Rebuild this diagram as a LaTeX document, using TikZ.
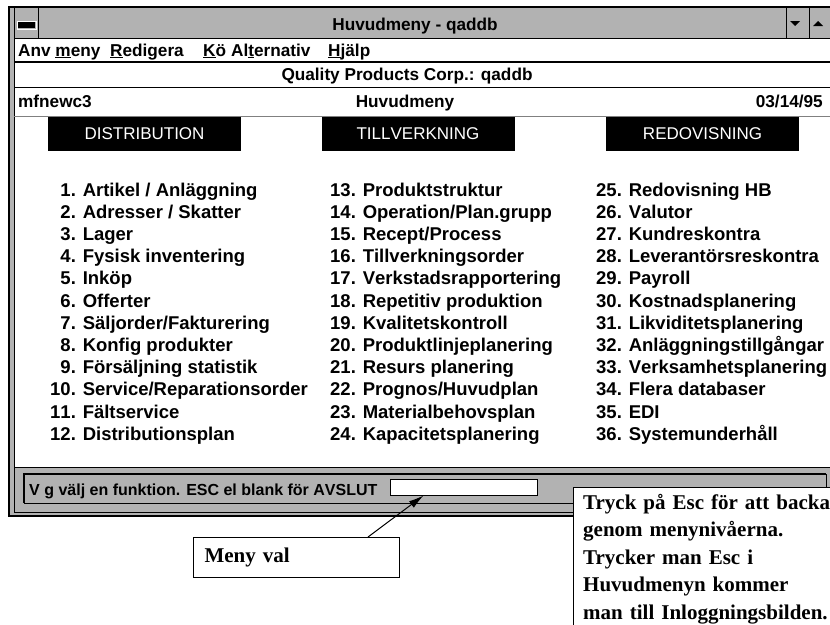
\documentclass[tikz,border=0pt]{standalone}
\usepackage{fontspec}
\setmainfont{Liberation Serif}
\newfontfamily\winfont[Kerning=Off]{Liberation Sans}
\usetikzlibrary{arrows.meta}

\begin{document}
\begin{tikzpicture}[x=1pt,y=-1pt,
  sysfont/.style={font=\winfont\bfseries\fontsize{17.2}{19}\selectfont,inner sep=0pt,anchor=base},
  head/.style={fill=black,text=white,font=\winfont\fontsize{17}{19}\selectfont,
    minimum width=193pt,minimum height=34pt,inner sep=0pt},
  item/.style={font=\winfont\bfseries\fontsize{18.5}{20}\selectfont,anchor=base west,inner sep=0pt},
  notefont/.style={font=\bfseries\fontsize{21}{27.5}\selectfont}]
  \useasboundingbox (0,0) rectangle (830,624);
  \clip (0,0) rectangle (830,624);
  % window frame, title bar and status bar
  \fill[black!30] (9,7) rectangle (840,516);
  \fill[white] (14,39) rectangle (840,467);
  \draw[line width=1.2pt] (9,7) rectangle (840,516);
  \draw (14,7) -- (14,512) -- (840,512);
  \draw (14,38) -- (840,38);
  \draw[line width=1.5pt] (14,62) -- (840,62);
  \draw (14,87) -- (840,87);
  \draw[gray] (14,116) -- (840,116);
  \draw[line width=1pt] (14,467) -- (840,467);
  % system menu box and buttons
  \draw (14,7) rectangle (38,38);
  \draw[white,line width=1pt] (17,21) rectangle (36,29);
  \fill (18,22) rectangle (35,28);
  \draw (786,7) rectangle (809,38) (809,7) rectangle (832,38);
  \fill (790,21) -- (800,21) -- (795,26) -- cycle;
  \fill (813,26) -- (823,26) -- (818,21) -- cycle;
  \node[sysfont] (title) at (415,30) {Huvudmeny - qaddb};
  % menu bar
  \node[sysfont,anchor=base west] (anv) at (18,56) {Anv \underline{m}eny};
  \node[sysfont,anchor=base west] (red) at (110,56) {\underline{R}edigera};
  \node[sysfont,anchor=base west] (koe) at (203,56) {\underline{K}ö};
  \node[sysfont,anchor=base west] (alt) at (231,56) {Al\underline{t}ernativ};
  \node[sysfont,anchor=base west] (hjp) at (328,56) {\underline{H}jälp};
  % header rows
  \node[sysfont] (corp) at (407,80.5) {Quality Products Corp.: qaddb};
  \node[sysfont,anchor=base west] (prog) at (18,107.5) {mfnewc3};
  \node[sysfont] (menu) at (405,107.5) {Huvudmeny};
  \node[sysfont,anchor=base east] (date) at (823,107.5) {03/14/95};
  \node[head] (dist) at (144.5,134) {DISTRIBUTION};
  \node[head] (tillv) at (418,134) {TILLVERKNING};
  \node[head] (redov) at (702.5,134) {REDOVISNING};
  % menu items
  \foreach \t [count=\i] in {Artikel / Anläggning, Adresser / Skatter, Lager,
      Fysisk inventering, Inköp, Offerter, Säljorder/Fakturering, Konfig produkter,
      Försäljning statistik, Service/Reparationsorder, Fältservice, Distributionsplan}
    \node[item] (dist\i) at (50,{196+(\i-1)*22.2}) {\ifnum\i<10 \phantom{0}\fi\i. \t};
  \foreach \t [count=\i] in {Produktstruktur, Operation/Plan.grupp, Recept/Process,
      Tillverkningsorder, Verkstadsrapportering, Repetitiv produktion, Kvalitetskontroll,
      Produktlinjeplanering, Resurs planering, Prognos/Huvudplan, Materialbehovsplan,
      Kapacitetsplanering}
    \node[item] (prod\i) at (330,{196+(\i-1)*22.2}) {\the\numexpr\i+12\relax. \t};
  \foreach \t [count=\i] in {Redovisning HB, Valutor, Kundreskontra, Leverantörsreskontra,
      Payroll, Kostnadsplanering, Likviditetsplanering, Anläggningstillgångar,
      Verksamhetsplanering, Flera databaser, EDI, Systemunderhåll}
    \node[item] (redo\i) at (596,{196+(\i-1)*22.2}) {\the\numexpr\i+24\relax. \t};
  % status line
  \draw (24,503) -- (826,503) -- (826,474);
  \draw[line width=1.5pt] (24,503) -- (24,474) -- (826,474);
  \node[sysfont,anchor=base west,font=\winfont\bfseries\fontsize{16}{18}\selectfont] (prompt) at (29,495.5) {V g välj en funktion. ESC el blank för AVSLUT};
  \node[draw,fill=white,line width=1pt,minimum width=147pt,minimum height=16pt,inner sep=0pt] (field) at (463.5,487) {};
  % callouts
  \node[draw,fill=white,line width=1pt,anchor=north west,minimum width=206pt,minimum height=40pt,
    text width=184pt,inner xsep=11pt,align=left,notefont] (mval) at (193,537) {Meny val};
  \draw[line width=1pt,-{Latex[length=15pt,width=8pt]}] ([xshift=-32pt]mval.north east) -- ([xshift=34pt]field.south west);
  \draw[fill=white,line width=1pt] (573,487) rectangle (840,640);
  \node[anchor=north west,text width=250pt,inner sep=0pt,align=left,notefont] (note) at (583,494)
    {Tryck på Esc för att backa\\ genom menynivåerna.\\ Trycker man Esc i\\ Huvudmenyn kommer\\ man till Inloggningsbilden.};
\end{tikzpicture}
\end{document}
